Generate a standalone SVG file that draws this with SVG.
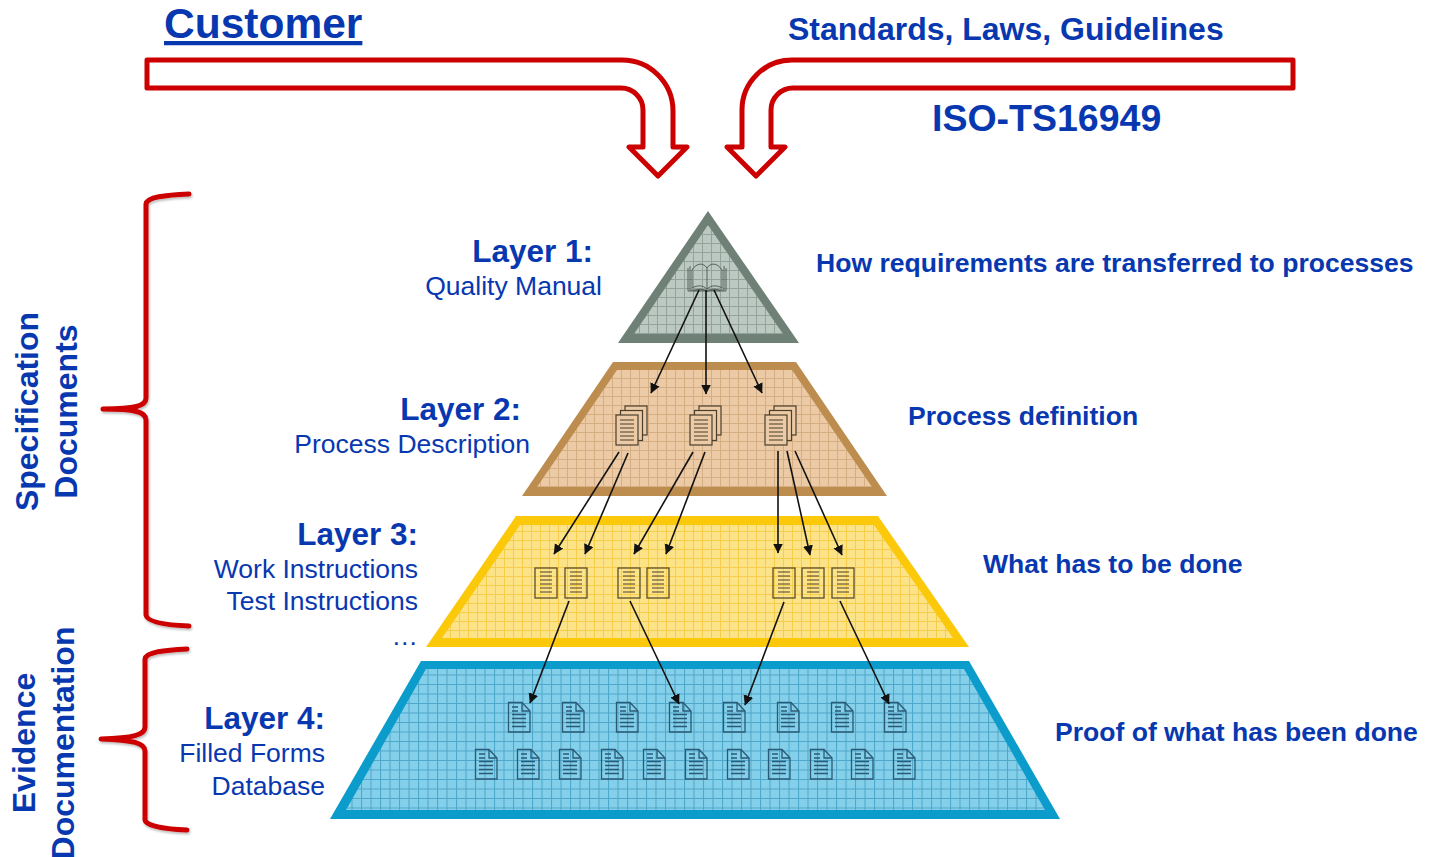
<svg xmlns="http://www.w3.org/2000/svg" xmlns:xlink="http://www.w3.org/1999/xlink" width="1431" height="857" viewBox="0 0 1431 857">
<style>
text{font-family:"Liberation Sans",Arial,sans-serif;fill:#0838b0}
.b{font-weight:700}
.t{font-size:31.500px;font-weight:700;text-anchor:end}
.s{font-size:26.500px;text-anchor:end}
.d{font-size:26.550px;font-weight:700}
.r{font-size:32px;font-weight:700;text-anchor:middle}
.red{fill:#fff;stroke:#cc0000;stroke-width:5;stroke-linejoin:round}
.br{fill:none;stroke:#cc0000;stroke-width:5;stroke-linecap:round;stroke-linejoin:round;filter:url(#sh)}
.ln{stroke:#111;stroke-width:1.6;fill:none;marker-end:url(#ah)}
.pg{fill:none;stroke:#5a4d2c;stroke-width:1.3}
.tx{stroke:#4a3f2c;stroke-width:1.2;fill:none}
.bl{stroke:#2a5a75;stroke-width:1.3;fill:none}
</style>
<defs>
<filter id="sh" x="-20%" y="-5%" width="140%" height="110%"><feDropShadow dx="1" dy="2" stdDeviation="1.2" flood-color="#000" flood-opacity=".25"/></filter>
<marker id="ah" markerUnits="userSpaceOnUse" markerWidth="11" markerHeight="11" refX="9.5" refY="5" orient="auto"><path d="M0 0L10 5L0 10Z" fill="#111"/></marker>
<pattern id="g1" width="9" height="9" patternUnits="userSpaceOnUse"><rect width="9" height="9" fill="#bcc9c3"/><path d="M0 .5H9M.5 0V9" stroke="#93a29b" stroke-width="1"/></pattern>
<pattern id="g2" width="9" height="9" patternUnits="userSpaceOnUse"><rect width="9" height="9" fill="#ebcaa5"/><path d="M0 .5H9M.5 0V9" stroke="#d6ae84" stroke-width="1"/></pattern>
<pattern id="g3" width="9" height="9" patternUnits="userSpaceOnUse"><rect width="9" height="9" fill="#fde388"/><path d="M0 .5H9M.5 0V9" stroke="#f5cd4a" stroke-width="1"/></pattern>
<pattern id="g4" width="9.500" height="9.500" patternUnits="userSpaceOnUse"><rect width="9.500" height="9.500" fill="#84cfe9"/><path d="M0 .5H9.500M.5 0V9.500" stroke="#4ea6c9" stroke-width="1"/></pattern>
<g id="sheet"><rect class="pg" x="0" y="0" width="22" height="30"/><path class="tx" d="M5 4H17M5 8H17M5 12H17M5 16H17M5 20H17M5 24H17"/></g>
<g id="stack">
<rect x="9" y="-9" width="22" height="29" fill="#ebcaa5" stroke="#4a3f2c" stroke-width="1.2"/>
<rect x="4.500" y="-4.500" width="22" height="30" fill="#ebcaa5" stroke="#4a3f2c" stroke-width="1.2"/>
<rect x="0" y="0" width="22" height="30" fill="#ebcaa5" stroke="#4a3f2c" stroke-width="1.2"/>
<path class="tx" d="M4 5H18M4 9H18M4 13H18M4 17H18M4 21H18M4 25H18"/>
</g>
<g id="form">
<path class="bl" d="M.5.5H14L22 9V30H.5Z"/><path class="bl" d="M14 .5V9H22"/>
<path class="bl" d="M4 5H10M4 9H10M4 12.500H18M4 16.500H18M4 20.500H18M4 24.500H18"/>
</g>
</defs>

<g id="connectors-red">
<path class="red" d="M147 60H622A51 51 0 0 1 673 111V147H687L658 176L629 147H643V110A22 22 0 0 0 621 88H147Z"/>
<path class="red" d="M1293 60H792A50 50 0 0 0 742 110V147H727L756 176L785 147H771V110A22 22 0 0 1 793 88H1293Z"/>
</g>

<g id="braces">
<path class="br" d="M189 194C165 195 147 197 146 204V398C146 406 135 409 103 409C135 409 146 412 146 420V615C147 622 165 625 189 626"/>
<path class="br" d="M187 649C165 650 146 652 145 659V727C145 735 133 738 101 739C133 740 145 743 145 751V820C146 826 165 829 187 830"/>
</g>

<g id="layer1">
<path d="M708 211L799 343H618Z" fill="#6f8077"/>
<path d="M708 225L783 334H634Z" fill="url(#g1)"/>
<g id="book" fill="none" stroke="#4a5550" stroke-width=".9">
<path d="M690 266V290H724V266M688 268V291H726V268"/>
<path d="M692 270C697 262 704 263 707 268C710 263 717 262 722 270V288C717 285 711 285 707 289C703 285 697 285 692 288Z"/>
<path d="M707 268V289M694 291C699 288 704 289 707 292C710 289 716 288 720 291"/>
</g>
</g>

<g id="layer2">
<path d="M613 362H796L887 496H522Z" fill="#bd8c4f"/>
<path d="M617 370H792L872 487H537Z" fill="url(#g2)"/>
<use xlink:href="#stack" href="#stack" x="616" y="415"/>
<use xlink:href="#stack" href="#stack" x="690" y="415"/>
<use xlink:href="#stack" href="#stack" x="765" y="415"/>
</g>

<g id="layer3">
<path d="M516 516H878L969 647H426Z" fill="#fbc80a"/>
<path d="M520 525H874L953 638H442Z" fill="url(#g3)"/>
<use xlink:href="#sheet" href="#sheet" x="535" y="568"/>
<use xlink:href="#sheet" href="#sheet" x="565" y="568"/>
<use xlink:href="#sheet" href="#sheet" x="618" y="568"/>
<use xlink:href="#sheet" href="#sheet" x="647" y="568"/>
<use xlink:href="#sheet" href="#sheet" x="773" y="568"/>
<use xlink:href="#sheet" href="#sheet" x="802" y="568"/>
<use xlink:href="#sheet" href="#sheet" x="832" y="568"/>
</g>

<g id="layer4">
<path d="M421 661H969L1060 819H330Z" fill="#0b9ccb"/>
<path d="M426 669H964L1045 810H346Z" fill="url(#g4)"/>
<use xlink:href="#form" href="#form" x="508" y="702"/>
<use xlink:href="#form" href="#form" x="562" y="702"/>
<use xlink:href="#form" href="#form" x="616" y="702"/>
<use xlink:href="#form" href="#form" x="669" y="702"/>
<use xlink:href="#form" href="#form" x="723" y="702"/>
<use xlink:href="#form" href="#form" x="777" y="702"/>
<use xlink:href="#form" href="#form" x="831" y="702"/>
<use xlink:href="#form" href="#form" x="884" y="702"/>
<use xlink:href="#form" href="#form" x="475" y="749"/>
<use xlink:href="#form" href="#form" x="517" y="749"/>
<use xlink:href="#form" href="#form" x="559" y="749"/>
<use xlink:href="#form" href="#form" x="601" y="749"/>
<use xlink:href="#form" href="#form" x="643" y="749"/>
<use xlink:href="#form" href="#form" x="685" y="749"/>
<use xlink:href="#form" href="#form" x="727" y="749"/>
<use xlink:href="#form" href="#form" x="768" y="749"/>
<use xlink:href="#form" href="#form" x="810" y="749"/>
<use xlink:href="#form" href="#form" x="851" y="749"/>
<use xlink:href="#form" href="#form" x="893" y="749"/>
</g>

<g id="connectors">
<path class="ln" d="M699 290L651 393"/><path class="ln" d="M706 290V394"/><path class="ln" d="M714 290L762 393"/>
<path class="ln" d="M619 452L554 554"/><path class="ln" d="M628 453L585 554"/><path class="ln" d="M693 452L634 554"/><path class="ln" d="M705 452L666 554"/>
<path class="ln" d="M778 451V553"/><path class="ln" d="M787 451L810 555"/><path class="ln" d="M795 451L842 555"/>
<path class="ln" d="M569 601L530 703"/><path class="ln" d="M630 601L679 704"/><path class="ln" d="M784 602L745 705"/><path class="ln" d="M840 601L889 704"/>
</g>

<g id="labels">
<text class="b" x="164" y="38" font-size="42.500" text-decoration="underline">Customer</text>
<text class="b" x="788" y="40" font-size="32">Standards, Laws, Guidelines</text>
<text class="b" x="932" y="131" font-size="37.500">ISO-TS16949</text>
<text class="t" x="593" y="262">Layer 1:</text>
<text class="s" x="602" y="295">Quality Manual</text>
<text class="t" x="521" y="420">Layer 2:</text>
<text class="s" x="530" y="453">Process Description</text>
<text class="t" x="418" y="545">Layer 3:</text>
<text class="s" x="418" y="578">Work Instructions</text>
<text class="s" x="418" y="610">Test Instructions</text>
<text class="s" x="418" y="645">…</text>
<text class="t" x="325" y="729">Layer 4:</text>
<text class="s" x="325" y="762">Filled Forms</text>
<text class="s" x="325" y="795">Database</text>
<text class="d" x="816" y="272">How requirements are transferred to processes</text>
<text class="d" x="908" y="425">Process definition</text>
<text class="d" x="983" y="573">What has to be done</text>
<text class="d" x="1055" y="741">Proof of what has been done</text>
<text class="r" transform="translate(38,411.500) rotate(-90)">Specification</text>
<text class="r" transform="translate(77,411.500) rotate(-90)">Documents</text>
<text class="r" transform="translate(35,743) rotate(-90)">Evidence</text>
<text class="r" transform="translate(74,743) rotate(-90)">Documentation</text>
</g>
</svg>
